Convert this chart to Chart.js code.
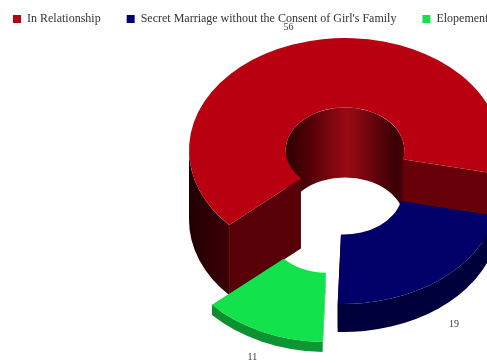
<!DOCTYPE html>
<html>
<head>
<meta charset="utf-8">
<style>
html,body{margin:0;padding:0;background:#fff;width:487px;height:363px;overflow:hidden}
canvas{display:block;margin:-13px 0 0 -13px}
</style>
<script src="https://cdn.jsdelivr.net/npm/chart.js@4"></script>
</head>
<body>
<canvas id="c" width="716" height="418"></canvas>
<script>
// Chart values
const categories = ["In Relationship", "Secret Marriage without the Consent of Girl's Family", "Elopement"];
const counts = [56, 19, 11];

// Slice appearance
const topColors = ["#b90010", "#000068", "#12e24b"];
const explode = [0, 0, 124];
const sliceHeights = [70, 28, 10];
const sliceShiftX = [0, -2, -4];
const wallStops = [
  [[0, "#220003"], [0.2, "#4a0006"], [0.3, "#5a0008"], [1, "#5a0008"]],
  [[0, "#00003c"], [1, "#00003c"]],
  [[0, "#0c8a2e"], [1, "#10a83a"]]
];
const cutColors = [["#570007", "#670009"], ["#00003c", "#00003c"], ["#10a83a", "#10a83a"]];
const labelNudge = [[-9, 6], [-3, 27], [3, 6]];
const tilt = 0.718;

// Doughnut drawn as a tilted solid: the arc geometry comes from the stock controller
class Ring3D extends Chart.DoughnutController {
  draw() {
    const ctx = this.chart.ctx;
    const arcs = this._cachedMeta.data;
    arcs.forEach((arc, i) => this.drawSlice(ctx, arc, i));
    ctx.save();
    ctx.fillStyle = "#3a3a3a";
    ctx.font = "10px 'Liberation Serif'";
    ctx.textAlign = "center";
    ctx.textBaseline = "middle";
    arcs.forEach((arc, i) => {
      const f = this.frame(arc, i);
      const mid = (arc.startAngle + arc.endAngle) / 2;
      const r = arc.outerRadius + 30;
      const x = f.x + Math.cos(mid) * r + labelNudge[i][0];
      const y = f.y + Math.sin(mid) * r * tilt + labelNudge[i][1];
      ctx.fillText(String(this.getDataset().data[i]), x, y);
    });
    ctx.restore();
  }
  frame(arc, i) {
    const mid = (arc.startAngle + arc.endAngle) / 2;
    const d = (arc.options.offset || 0) / 4;
    return {
      x: arc.x + Math.cos(mid) * d + sliceShiftX[i],
      y: arc.y + Math.sin(mid) * d * tilt - sliceHeights[i],
      h: sliceHeights[i]
    };
  }
  band(ctx, f, r, a, b, fill) {
    ctx.beginPath();
    ctx.ellipse(f.x, f.y, r, r * tilt, 0, a, b);
    ctx.ellipse(f.x, f.y + f.h, r, r * tilt, 0, b, a, true);
    ctx.closePath();
    ctx.fillStyle = fill;
    ctx.fill();
  }
  visible(start, end, from, to) {
    // parts of [start,end] lying in the half turn [from,to], repeated every full turn
    const out = [], T = Math.PI * 2;
    for (let k = -2; k <= 2; k++) {
      const a = Math.max(start, from + k * T), b = Math.min(end, to + k * T);
      if (b > a) out.push([a, b]);
    }
    return out;
  }
  cut(ctx, f, arc, a, fill) {
    const ca = Math.cos(a), sa = Math.sin(a) * tilt;
    const ri = arc.innerRadius, ro = arc.outerRadius;
    ctx.beginPath();
    ctx.moveTo(f.x + ca * ri, f.y + sa * ri);
    ctx.lineTo(f.x + ca * ro, f.y + sa * ro);
    ctx.lineTo(f.x + ca * ro, f.y + sa * ro + f.h);
    ctx.lineTo(f.x + ca * ri, f.y + sa * ri + f.h);
    ctx.closePath();
    ctx.fillStyle = fill;
    ctx.fill();
  }
  drawSlice(ctx, arc, i) {
    const f = this.frame(arc, i);
    const ri = arc.innerRadius, ro = arc.outerRadius;
    const s = arc.startAngle, e = arc.endAngle;

    // inner wall seen through the hole
    const ig = ctx.createLinearGradient(f.x - ri, 0, f.x + ri, 0);
    ig.addColorStop(0, "#2c0004");
    ig.addColorStop(0.18, "#4e0007");
    ig.addColorStop(0.52, "#9a0a14");
    ig.addColorStop(0.92, "#3a0005");
    ig.addColorStop(1, "#4a0006");
    this.visible(s, e, Math.PI, Math.PI * 2).forEach(([a, b]) => this.band(ctx, f, ri, a, b, ig));

    // faces exposed at both ends of the slice
    this.cut(ctx, f, arc, s, cutColors[i][0]);
    this.cut(ctx, f, arc, e, cutColors[i][1]);

    // outer wall on the near side
    const og = ctx.createLinearGradient(f.x - ro, 0, f.x + ro, 0);
    wallStops[i].forEach(([p, c]) => og.addColorStop(p, c));
    this.visible(s, e, 0, Math.PI).forEach(([a, b]) => this.band(ctx, f, ro, a, b, og));

    // top face
    ctx.beginPath();
    ctx.ellipse(f.x, f.y, ro, ro * tilt, 0, s, e);
    ctx.ellipse(f.x, f.y, ri, ri * tilt, 0, e, s, true);
    ctx.closePath();
    ctx.fillStyle = arc.options.backgroundColor;
    ctx.fill();
  }
}
Ring3D.id = "ring3d";
Ring3D.defaults = Chart.DoughnutController.defaults;
Ring3D.overrides = Chart.DoughnutController.overrides;
Chart.register(Ring3D);

new Chart(document.getElementById("c"), {
  type: "ring3d",
  data: {
    labels: categories,
    datasets: [{
      data: counts,
      backgroundColor: topColors,
      borderWidth: 0,
      offset: explode
    }]
  },
  options: {
    responsive: false,
    animation: false,
    events: [],
    rotation: 228,
    radius: 156,
    cutout: "38%",
    plugins: {
      tooltip: { enabled: false },
      legend: {
        position: "top",
        align: "start",
        labels: {
          boxWidth: 8,
          boxHeight: 8,
          padding: 26,
          color: "#333333",
          font: { family: "'Liberation Serif'", size: 12 }
        }
      }
    }
  }
});
</script>
</body>
</html>
